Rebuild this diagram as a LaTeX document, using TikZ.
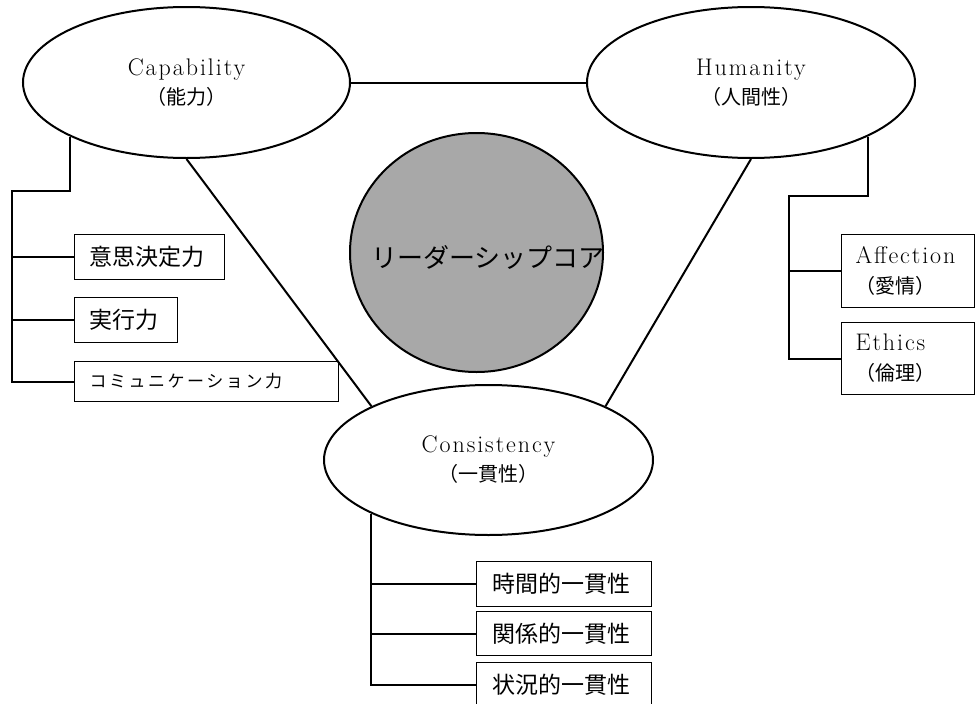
\documentclass[tikz,border=0pt]{standalone}
\usepackage{fontspec}
\newfontfamily\jp{Noto Sans CJK JP}
\newfontfamily\jpw{Noto Sans CJK JP}[LetterSpace=15]
\newfontfamily\lat{Latin Modern Roman}[LetterSpace=8]
\usetikzlibrary{shapes.geometric}
\definecolor{coregray}{RGB}{168,168,168}
\begin{document}
\begin{tikzpicture}[x=1pt,y=-1pt,
  oval/.style={ellipse, draw, line width=2pt, fill=white, inner sep=0pt, align=center,
    font=\fontsize{24}{29}\selectfont},
  lbox/.style={rectangle, draw, line width=1pt, fill=white, anchor=north west,
    inner xsep=15pt, inner ysep=0pt, align=left},
  kbox/.style={lbox, font=\jp\fontsize{23}{27}\selectfont},
  ebox/.style={lbox, inner xsep=14pt, text width=105pt, font=\fontsize{24}{30}\selectfont},
  conn/.style={line width=2pt},
  tree/.style={line width=2pt}]
\path[use as bounding box, fill=white] (0,0) rectangle (975,704);

% ellipses
\node[oval, minimum width=327pt, minimum height=151pt] (cap) at (186.5,82.5)
  {{\lat Capability}\\{\jp\fontsize{20}{29}\selectfont （能力）}};
\node[oval, minimum width=328pt, minimum height=151pt] (hum) at (751,82.5)
  {{\lat Humanity}\\{\jp\fontsize{20}{29}\selectfont （人間性）}};
\node[oval, minimum width=329pt, minimum height=150pt] (con) at (488.5,460)
  {{\lat Consistency}\\{\jp\fontsize{20}{29}\selectfont （一貫性）}};

% core
\node[ellipse, draw, line width=2pt, fill=coregray, minimum width=253pt,
  minimum height=239pt, inner sep=0pt] (core) at (476.5,252.5) {};
\node[inner sep=0pt, font=\jp\fontsize{26}{30}\selectfont] (coretext) at (488,257) {リーダーシップコア};

% left boxes
\node[kbox, minimum height=45pt, text width=120pt] (b1) at (74,234) {意思決定力};
\node[kbox, minimum height=45pt, text width=73pt] (b2) at (74,297) {実行力};
\node[lbox, minimum height=40pt, text width=234pt, inner xsep=15pt,
  font=\jpw\fontsize{17}{20}\selectfont] (b3) at (74,361) {コミュニケーション力};

% right boxes
\node[ebox, minimum height=73pt] (r1) at (841,234)
  {{\lat Affection}\\{\jp\fontsize{20}{30}\selectfont （愛情）}};
\node[ebox, minimum height=72pt] (r2) at (841,322)
  {{\lat Ethics}\\{\jp\fontsize{20}{30}\selectfont （倫理）}};

% bottom boxes
\node[kbox, minimum height=45pt, text width=143pt, inner xsep=16pt] (c1) at (476,561) {時間的一貫性};
\node[kbox, minimum height=44pt, text width=143pt, inner xsep=16pt] (c2) at (476,611) {関係的一貫性};
\node[kbox, minimum height=44pt, text width=143pt, inner xsep=16pt] (c3) at (476,662) {状況的一貫性};

% triangle connectors
\draw[conn] (cap.east) -- (hum.west);
\draw[conn] (cap.south) -- (con.north west);
\draw[conn] (hum.south) -- (con.north east);

% left tree
\coordinate (lt) at (12,191);
\draw[tree] (cap.south west) |- (lt) -- (lt |- b3.west) -- (b3.west);
\draw[tree] (lt |- b1.west) -- (b1.west);
\draw[tree] (lt |- b2.west) -- (b2.west);

% right tree
\coordinate (rt) at (789,196);
\draw[tree] (hum.south east) |- (rt) -- (rt |- r2.west) -- (r2.west);
\draw[tree] (rt |- r1.west) -- (r1.west);

% bottom tree
\draw[tree] (con.south west) -- (con.south west |- c3.west) -- (c3.west);
\draw[tree] (con.south west |- c1.west) -- (c1.west);
\draw[tree] (con.south west |- c2.west) -- (c2.west);
\end{tikzpicture}
\end{document}
